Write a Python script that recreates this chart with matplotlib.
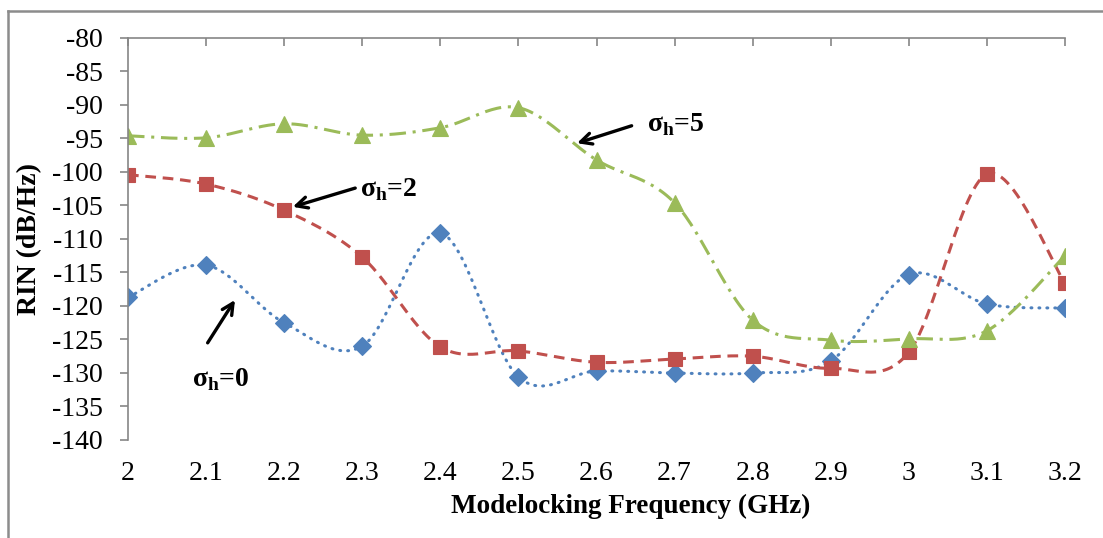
import numpy as np
import matplotlib
matplotlib.use('Agg')
import matplotlib.pyplot as plt
from matplotlib.lines import Line2D

plt.rcParams['font.family'] = ['Liberation Serif', 'DejaVu Serif']
plt.rcParams['mathtext.fontset'] = 'custom'
plt.rcParams['mathtext.rm'] = 'Liberation Serif'
plt.rcParams['mathtext.bf'] = 'Liberation Serif:bold'
plt.rcParams['axes.unicode_minus'] = False

freq = [2.0, 2.1, 2.2, 2.3, 2.4, 2.5, 2.6, 2.7, 2.8, 2.9, 3.0, 3.1, 3.2]
rin_sigma0 = [-118.7, -113.9, -122.5, -126.0, -109.1, -130.6, -129.7,
              -130.0, -130.0, -128.2, -115.3, -119.7, -120.3]
rin_sigma2 = [-100.4, -101.8, -105.7, -112.7, -126.1, -126.7, -128.4,
              -127.9, -127.5, -129.3, -126.9, -100.3, -116.6]
rin_sigma5 = [-94.6, -94.9, -92.8, -94.5, -93.4, -90.4, -98.2,
              -104.6, -122.1, -125.1, -124.9, -123.7, -112.5]

W, H = 1103, 538


def smooth(x, y, n=30):
    # Bezier smoothing through the points (control points at 1/6 of neighbour chord)
    p = np.column_stack([x, y]).astype(float)
    pts = np.vstack([p[0], p, p[-1]])
    out = []
    t = np.linspace(0, 1, n)[:, None]
    for i in range(1, len(pts) - 2):
        p0, p1 = pts[i], pts[i + 1]
        c1 = p0 + (pts[i + 1] - pts[i - 1]) / 6
        c2 = p1 - (pts[i + 2] - pts[i]) / 6
        seg = ((1 - t) ** 3) * p0 + 3 * ((1 - t) ** 2) * t * c1 + 3 * (1 - t) * t ** 2 * c2 + t ** 3 * p1
        out.append(seg if i == 1 else seg[1:])
    seg = np.vstack(out)
    return seg[:, 0], seg[:, 1]


fig = plt.figure(figsize=(W / 100, H / 100), dpi=100)
ax = fig.add_axes([128 / W, 1 - 440 / H, (1065 - 128) / W, (440 - 38) / H])

series = [
    (rin_sigma0, '#4F81BD', 'D', 9, (0, (0.3, 2.3)), 'round'),
    (rin_sigma2, '#C0504D', 's', 10, (0, (3.5, 2.2)), 'butt'),
    (rin_sigma5, '#9BBB59', '^', 11, (0, (5.4, 2.2, 1.0, 2.2)), 'butt'),
]
for vals, col, mk, ms, ls, cap in series:
    sx, sy = smooth(freq, vals)
    ax.plot(sx, sy, color=col, lw=2.2, linestyle=ls, dash_capstyle=cap)
    ax.plot(freq, vals, linestyle='none', marker=mk, ms=ms, color=col,
            markeredgecolor=col, markeredgewidth=0.8)

ax.set_xlim(2.0, 3.2)
ax.set_ylim(-140, -80)
ax.set_xticks(freq)
ax.set_xticklabels(['2', '2.1', '2.2', '2.3', '2.4', '2.5', '2.6', '2.7', '2.8',
                    '2.9', '3', '3.1', '3.2'])
ax.set_yticks(np.arange(-140, -79, 5))

for s in ['right', 'bottom']:
    ax.spines[s].set_visible(False)
for s in ['left', 'top']:
    ax.spines[s].set_color('#868686')
    ax.spines[s].set_linewidth(1.2)

ax.tick_params(axis='x', bottom=False, top=True, direction='in', length=6,
               width=1.2, color='#868686', labelbottom=True, labeltop=False,
               pad=15, labelsize=20)
ax.tick_params(axis='y', direction='out', length=6, width=1.2,
               color='#868686', pad=12, labelsize=20)

ax.set_xlabel('Modelocking Frequency (GHz)', fontsize=19.5, fontweight='bold')
ax.xaxis.set_label_coords(0.536, -0.135)
ax.set_ylabel('RIN (dB/Hz)', fontsize=20, fontweight='bold', labelpad=7)

arrow = dict(arrowstyle='->,head_length=0.8,head_width=0.4', color='black',
             lw=2.4, shrinkA=0, shrinkB=0)
ax.annotate('', xy=(2.575, -95.7), xytext=(2.645, -93.1), arrowprops=arrow)
ax.annotate('', xy=(2.211, -105.2), xytext=(2.291, -102.4), arrowprops=arrow)
ax.annotate('', xy=(2.137, -119.1), xytext=(2.102, -125.5), arrowprops=arrow)

lab = dict(fontsize=20, fontweight='bold', ha='left', va='center')
ax.text(2.665, -93.0, r'σ$_\mathbf{h}$=5', **lab)
ax.text(2.297, -102.7, r'σ$_\mathbf{h}$=2', **lab)
ax.text(2.082, -131.0, r'σ$_\mathbf{h}$=0', **lab)

# chart frame
fig.add_artist(Line2D([8 / W, 1], [1 - 11 / H, 1 - 11 / H], color='#8c8c8c', lw=1.8))
fig.add_artist(Line2D([8 / W, 8 / W], [0, 1 - 11 / H], color='#8c8c8c', lw=1.8))

fig.savefig('out.png', dpi=100)
